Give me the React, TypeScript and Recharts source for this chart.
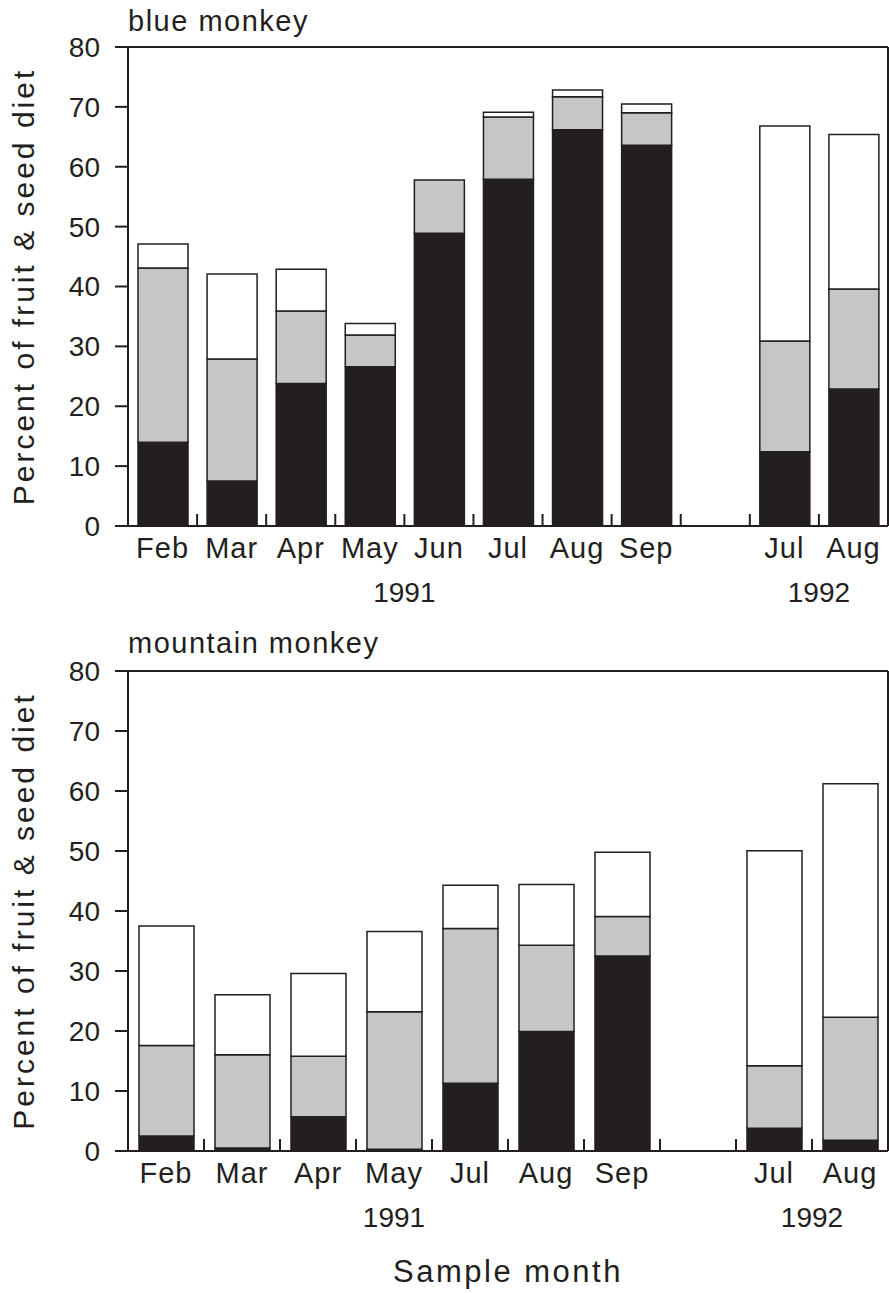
import React from "react";
import { BarChart, Bar, XAxis, YAxis, ReferenceLine, Label } from "recharts";

const FONT = "'Liberation Sans', Arial, Helvetica, sans-serif";
const INK = "#231f20";
const STIPPLE = "#c6c6c6";

// blue monkey (top panel)
const blueMonths = ["Feb", "Mar", "Apr", "May", "Jun", "Jul", "Aug", "Sep", "", "Jul", "Aug"];
const blueYears = ["1991", "1991", "1991", "1991", "1991", "1991", "1991", "1991", "", "1992", "1992"];
const blueBlack = [14, 7.5, 23.8, 26.6, 48.9, 57.9, 66.2, 63.6, null, 12.4, 22.9];
const blueGray = [29.1, 20.4, 12.1, 5.3, 8.9, 10.4, 5.5, 5.4, null, 18.5, 16.7];
const blueWhite = [4, 14.2, 7, 1.9, 0, 0.8, 1.1, 1.5, null, 35.9, 25.8];

// mountain monkey (bottom panel)
const mtnMonths = ["Feb", "Mar", "Apr", "May", "Jul", "Aug", "Sep", "", "Jul", "Aug"];
const mtnYears = ["1991", "1991", "1991", "1991", "1991", "1991", "1991", "", "1992", "1992"];
const mtnBlack = [2.5, 0.5, 5.7, 0.3, 11.3, 19.9, 32.5, null, 3.8, 1.8];
const mtnGray = [15.1, 15.55, 10.1, 22.9, 25.8, 14.4, 6.6, null, 10.4, 20.5];
const mtnWhite = [19.9, 10.0, 13.8, 13.4, 7.2, 10.1, 10.7, null, 35.85, 38.9];

const yTicks = [0, 10, 20, 30, 40, 50, 60, 70, 80];

const W = 889;
const PLOT_LEFT = 128;
const PLOT_RIGHT = 888;

function buildRows(months: string[], years: string[], black: any[], gray: any[], white: any[]) {
  return months.map((m, i) => ({
    id: `${m}-${years[i]}-${i}`,
    black: black[i],
    gray: gray[i],
    white: white[i],
  }));
}

function MonthTick(props: any) {
  const { x, y, index, months, years } = props;
  const n = months.length;
  const step = (PLOT_RIGHT - PLOT_LEFT) / n;
  const yr = years[index];
  const firstOfYear = yr !== "" && (index === 0 || years[index - 1] !== yr);
  let span = 0;
  if (firstOfYear) {
    let j = index;
    while (j < n && years[j] === yr) j++;
    span = j - index;
  }
  return (
    <g>
      {index < n - 1 && (
        <line x1={x + step / 2} x2={x + step / 2} y1={y} y2={y - 12} stroke={INK} strokeWidth={2} />
      )}
      <text x={x} y={y + 32} textAnchor="middle" fontSize={29} fill={INK} fontFamily={FONT} letterSpacing={1}>
        {months[index]}
      </text>
      {firstOfYear && (
        <text x={x + ((span - 1) * step) / 2} y={y + 76} textAnchor="middle" fontSize={28} fill={INK} fontFamily={FONT}>
          {yr}
        </text>
      )}
    </g>
  );
}

interface PanelProps {
  title: string;
  titleY: number;
  months: string[];
  years: string[];
  rows: any[];
  height: number;
  plotTop: number;
  plotBottom: number;
  barSize: number;
  showXTitle?: boolean;
}

function Panel({ title, titleY, months, years, rows, height, plotTop, plotBottom, barSize, showXTitle }: PanelProps) {
  const midY = (plotTop + plotBottom) / 2;
  return (
    <BarChart
      width={W}
      height={height}
      data={rows}
      barSize={barSize}
      margin={{ top: plotTop, right: 0, bottom: 0, left: 0 }}
    >
      <XAxis
        dataKey="id"
        interval={0}
        tickSize={0}
        tickMargin={0}
        tickLine={false}
        height={height - plotBottom}
        axisLine={{ stroke: INK, strokeWidth: 2 }}
        tick={(p: any) => <MonthTick {...p} months={months} years={years} />}
      >
        {showXTitle && (
          <Label
            content={() => (
              <text x={(PLOT_LEFT + PLOT_RIGHT) / 2} y={height - 11} textAnchor="middle" fontSize={31} fill={INK} fontFamily={FONT} letterSpacing={2.5}>
                Sample month
              </text>
            )}
          />
        )}
      </XAxis>
      <YAxis
        yAxisId="l"
        width={PLOT_LEFT}
        domain={[0, 80]}
        ticks={yTicks}
        interval={0}
        tickSize={13}
        tickMargin={15}
        axisLine={{ stroke: INK, strokeWidth: 2 }}
        tickLine={{ stroke: INK, strokeWidth: 2 }}
        tick={{ fontSize: 28, fill: INK, fontFamily: FONT }}
      >
        <Label
          content={() => (
            <text
              x={34}
              y={midY}
              transform={`rotate(-90, 34, ${midY})`}
              textAnchor="middle"
              fontSize={30}
              fill={INK}
              fontFamily={FONT}
              letterSpacing={3}
            >
              Percent of fruit &amp; seed diet
            </text>
          )}
        />
        <Label
          content={() => (
            <text x={PLOT_LEFT} y={titleY} fontSize={29} fill={INK} fontFamily={FONT} letterSpacing={1.5}>
              {title}
            </text>
          )}
        />
      </YAxis>
      <YAxis
        yAxisId="r"
        orientation="right"
        width={1}
        domain={[0, 80]}
        tick={false}
        tickLine={false}
        axisLine={{ stroke: INK, strokeWidth: 2 }}
      />
      <ReferenceLine yAxisId="l" y={80} stroke={INK} strokeWidth={2} />
      <Bar yAxisId="l" dataKey="black" stackId="s" fill={INK} stroke={INK} strokeWidth={1.5} isAnimationActive={false} />
      <Bar yAxisId="l" dataKey="gray" stackId="s" fill={STIPPLE} stroke={INK} strokeWidth={1.5} isAnimationActive={false} />
      <Bar yAxisId="l" dataKey="white" stackId="s" fill="#ffffff" stroke={INK} strokeWidth={1.5} isAnimationActive={false} />
    </BarChart>
  );
}

export default function App() {
  const blueRows = buildRows(blueMonths, blueYears, blueBlack, blueGray, blueWhite);
  const mtnRows = buildRows(mtnMonths, mtnYears, mtnBlack, mtnGray, mtnWhite);
  return (
    <div style={{ position: "absolute", left: 0, top: 0, width: W, height: 1293, background: "#fff", fontFamily: FONT }}>
      <div style={{ position: "absolute", left: 0, top: 0 }}>
        <Panel
          title="blue monkey"
          titleY={31}
          months={blueMonths}
          years={blueYears}
          rows={blueRows}
          height={620}
          plotTop={47}
          plotBottom={526}
          barSize={50}
        />
      </div>
      <div style={{ position: "absolute", left: 0, top: 620 }}>
        <Panel
          title="mountain monkey"
          titleY={33}
          months={mtnMonths}
          years={mtnYears}
          rows={mtnRows}
          height={673}
          plotTop={51}
          plotBottom={531}
          barSize={55}
          showXTitle
        />
      </div>
    </div>
  );
}
